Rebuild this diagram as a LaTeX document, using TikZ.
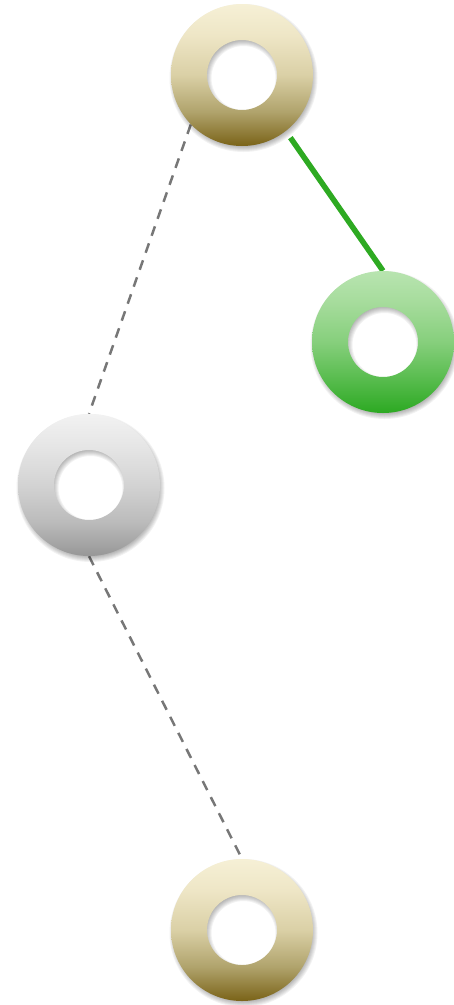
\documentclass[tikz,border=0pt]{standalone}
\usetikzlibrary{calc}
\definecolor{linkgray}{HTML}{777777}
\definecolor{linkgreen}{HTML}{2EAA22}
\definecolor{creamA}{HTML}{F6F0D6}
\definecolor{creamB}{HTML}{EEE6C6}
\definecolor{creamC}{HTML}{DAD0A6}
\definecolor{creamD}{HTML}{B0A36C}
\definecolor{creamE}{HTML}{7A6318}
\definecolor{greenA}{HTML}{B8E4B0}
\definecolor{greenB}{HTML}{A6DC9C}
\definecolor{greenC}{HTML}{86CF7C}
\definecolor{greenD}{HTML}{58BC4E}
\definecolor{greenE}{HTML}{2CA922}
\definecolor{grayA}{HTML}{F2F2F2}
\definecolor{grayB}{HTML}{E6E6E6}
\definecolor{grayC}{HTML}{D3D3D3}
\definecolor{grayD}{HTML}{BBBBBB}
\definecolor{grayE}{HTML}{979797}
\pgfdeclareverticalshading{creamsh}{100bp}{color(0bp)=(creamE); color(25bp)=(creamE); color(37bp)=(creamD); color(50bp)=(creamC); color(64bp)=(creamB); color(75bp)=(creamA); color(100bp)=(creamA)}
\pgfdeclareverticalshading{greensh}{100bp}{color(0bp)=(greenE); color(25bp)=(greenE); color(37bp)=(greenD); color(50bp)=(greenC); color(64bp)=(greenB); color(75bp)=(greenA); color(100bp)=(greenA)}
\pgfdeclareverticalshading{graysh}{100bp}{color(0bp)=(grayE); color(25bp)=(grayE); color(37bp)=(grayD); color(50bp)=(grayC); color(64bp)=(grayB); color(75bp)=(grayA); color(100bp)=(grayA)}
\tikzset{
  ringnode/.style={circle, minimum size=142pt, inner sep=0pt},
  link/.style={draw=linkgray, line width=2.5pt, dash pattern=on 10pt off 8pt},
  hot/.style={draw=linkgreen, line width=5.5pt},
}
\newcommand\ringat[2]{%
  \foreach \k in {0,...,8}{%
    \fill[black, opacity=0.05, even odd rule] ($(#1)+(1.5pt,-3pt)$) circle ({66pt+\k pt}) circle ({40pt-\k pt});
  }
  \shade[shading=#2, even odd rule] (#1) circle (71pt) (#1) circle (35pt);
}
\begin{document}
\begin{tikzpicture}[x=1pt,y=-1pt]
  \useasboundingbox (0,0) rectangle (454,1005);
  \node[ringnode] (top) at (242,75) {};
  \node[ringnode] (green) at (383,342) {};
  \node[ringnode] (gray) at (89,485) {};
  \node[ringnode] (bot) at (242,930) {};
  \draw[hot, shorten <=8pt] (top.-52) -- (green.north);
  \draw[link] (top.224) -- (gray.north);
  \draw[link] (gray.south) -- (bot.north);
  \ringat{top.center}{creamsh}
  \ringat{green.center}{greensh}
  \ringat{gray.center}{graysh}
  \ringat{bot.center}{creamsh}
\end{tikzpicture}
\end{document}
